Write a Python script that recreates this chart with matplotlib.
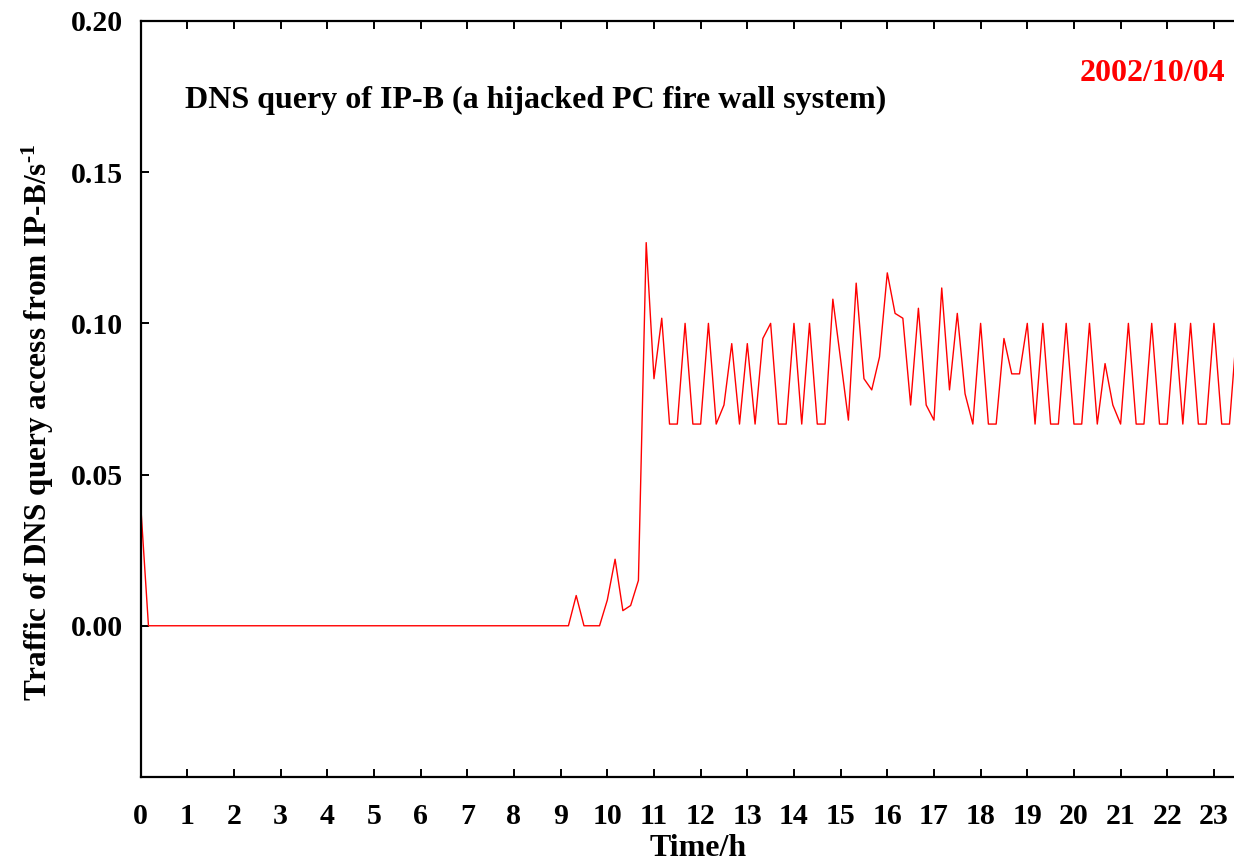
"""DNS query traffic of IP-B on 2002/10/04."""
import numpy as np
import matplotlib
matplotlib.use("Agg")
import matplotlib.pyplot as plt

plt.rcParams["font.family"] = ["Liberation Serif", "DejaVu Serif"]
plt.rcParams["font.weight"] = "bold"
plt.rcParams["mathtext.fontset"] = "custom"
plt.rcParams["mathtext.rm"] = "Liberation Serif:bold"
plt.rcParams["mathtext.it"] = "Liberation Serif:bold"
plt.rcParams["mathtext.bf"] = "Liberation Serif:bold"

# traffic per second, one sample every 10 minutes from 0:00
traffic = [0.040] + [0.0] * 55 + [
    0.010, 0.0, 0.0, 0.0, 0.0085, 0.022, 0.005, 0.0067, 0.015, 0.1267,
    0.0817, 0.1017, 0.0667, 0.0667, 0.1, 0.0667, 0.0667, 0.1, 0.0667, 0.073,
    0.0933, 0.0667, 0.0933, 0.0667, 0.095, 0.1, 0.0667, 0.0667, 0.1, 0.0667,
    0.1, 0.0667, 0.0667, 0.108, 0.088, 0.068, 0.1133, 0.0817, 0.078, 0.0889,
    0.1167, 0.1033, 0.1017, 0.073, 0.105, 0.073, 0.068, 0.1117, 0.078, 0.1033,
    0.0767, 0.0667, 0.1, 0.0667, 0.0667, 0.095, 0.0833, 0.0833, 0.1, 0.0667,
    0.1, 0.0667, 0.0667, 0.1, 0.0667, 0.0667, 0.1, 0.0667, 0.0867, 0.073,
    0.0667, 0.1, 0.0667, 0.0667, 0.1, 0.0667, 0.0667, 0.1, 0.0667, 0.1,
    0.0667, 0.0667, 0.1, 0.0667, 0.0667, 0.1,
]
sample_minutes = 10
hour_ticks = list(range(24))
y_ticks = [0.00, 0.05, 0.10, 0.15, 0.20]
y_ticklabels = ["0.00", "0.05", "0.10", "0.15", "0.20"]
title = "DNS query of IP-B (a hijacked PC fire wall system)"
date = "2002/10/04"


def main():
    hours = np.arange(len(traffic)) * sample_minutes / 60.0

    fig = plt.figure(figsize=(12.34, 8.63), dpi=100)
    ax = fig.add_axes([0.114, 0.0997, 0.886, 0.876])
    ax.plot(hours, traffic, color="red", linewidth=1.0)

    ax.set_xlim(0, 23.43)
    ax.set_ylim(-0.05, 0.20)
    ax.set_xticks(hour_ticks)
    ax.set_xticklabels([str(h) for h in hour_ticks])
    ax.set_yticks(y_ticks)
    ax.set_yticklabels(y_ticklabels)

    ax.spines["right"].set_visible(False)
    for s in ("left", "bottom", "top"):
        ax.spines[s].set_linewidth(1.6)
    ax.tick_params(axis="x", direction="in", top=True, length=6, width=1.4,
                   labelsize=21.5, pad=19)
    ax.tick_params(axis="y", direction="in", right=False, length=6, width=1.4,
                   labelsize=21.5, pad=13)

    ax.set_xlabel("Time/h", fontsize=23, fontweight="bold", labelpad=2.5)
    ax.xaxis.label.set_x(0.51)
    ax.set_ylabel("Traffic of DNS query access from IP-B/s$^{\\text{-1}}$",
                  fontsize=22.5, fontweight="bold")
    ax.yaxis.set_label_coords(-0.0775, 0.469)

    ax.text(0.0405, 0.895, title, transform=ax.transAxes, fontsize=23,
            fontweight="bold", ha="left", va="center")
    ax.text(0.9918, 0.93, date, transform=ax.transAxes, fontsize=23,
            fontweight="bold", color="red", ha="right", va="center")

    fig.savefig("out.png", dpi=100)


if __name__ == "__main__":
    main()
